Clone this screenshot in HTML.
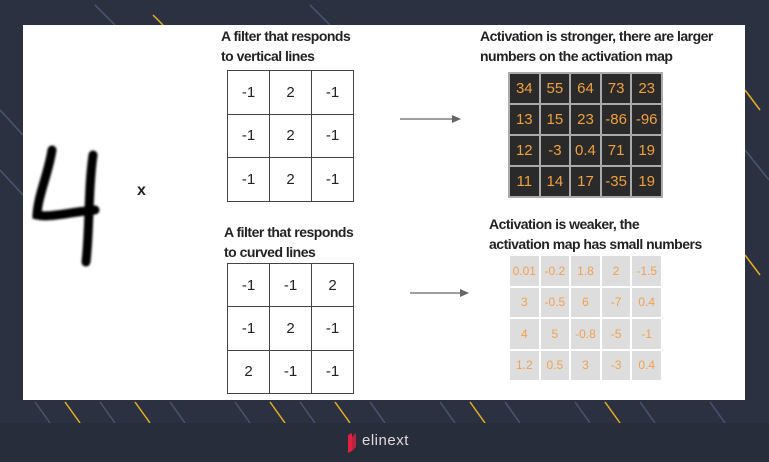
<!DOCTYPE html><html><head><style>
body{margin:0;width:769px;height:462px;background:#2b3140;position:relative;overflow:hidden;font-family:"Liberation Sans",sans-serif}
.p{position:absolute;left:23px;top:25px;width:722px;height:375px;background:#fff}
.t{position:absolute;font-size:14px;font-weight:bold;color:#222;line-height:20px;letter-spacing:-0.5px}
table{position:absolute;border-collapse:collapse;table-layout:fixed}
.f td{border:1.5px solid #444;text-align:center;font-size:15px;color:#222;padding:0}
.d td{border:2px solid #aaa;color:#f0a040;font-size:15px;text-align:center;padding:0;background:#2a2a2a}
.l td{border:2px solid #fff;background:#ddd;color:#f0a050;font-size:12px;text-align:center;padding:0}
.bar{position:absolute;left:0;top:423px;width:769px;height:39px;background:#272d3a}
</style></head><body>
<svg width="769" height="462" style="position:absolute;left:0;top:0">
<g stroke="#4a5570" stroke-width="1.5">
<line x1="95" y1="5" x2="115" y2="25"/><line x1="310" y1="5" x2="330" y2="25"/><line x1="0" y1="110" x2="23" y2="135"/><line x1="0" y1="170" x2="23" y2="195"/>
<line x1="35" y1="402" x2="50" y2="423"/><line x1="100" y1="402" x2="115" y2="423"/><line x1="170" y1="402" x2="185" y2="423"/><line x1="235" y1="402" x2="250" y2="423"/><line x1="300" y1="402" x2="315" y2="423"/><line x1="370" y1="402" x2="385" y2="423"/><line x1="440" y1="402" x2="455" y2="423"/><line x1="505" y1="402" x2="520" y2="423"/><line x1="575" y1="402" x2="590" y2="423"/><line x1="640" y1="402" x2="655" y2="423"/><line x1="710" y1="402" x2="725" y2="423"/><line x1="745" y1="150" x2="769" y2="180"/></g>
<g stroke="#e8b020" stroke-width="1.5">
<line x1="65" y1="402" x2="80" y2="423"/><line x1="135" y1="402" x2="150" y2="423"/><line x1="270" y1="402" x2="285" y2="423"/><line x1="335" y1="402" x2="350" y2="423"/><line x1="470" y1="402" x2="485" y2="423"/><line x1="605" y1="402" x2="620" y2="423"/><line x1="153" y1="15" x2="163" y2="25"/><line x1="745" y1="90" x2="760" y2="110"/><line x1="745" y1="255" x2="760" y2="275"/></g>
</svg>
<div class="p"></div>
<svg width="769" height="462" style="position:absolute;left:0;top:0">
<path d="M52 150 C48 175 38 195 37 215 C50 218 70 212 95 210 M93 155 C88 190 90 225 86 262" fill="none" stroke="#000" stroke-width="9" stroke-linecap="round" style="filter:blur(1px)"/>
<line x1="400" y1="119" x2="452" y2="119" stroke="#666" stroke-width="1.2"/><polygon points="452,115 461,119 452,123" fill="#666"/>
<line x1="410" y1="293" x2="460" y2="293" stroke="#666" stroke-width="1.2"/><polygon points="460,289 469,293 460,297" fill="#666"/>
</svg>
<div class="t" style="left:137px;top:181px;font-size:16px">x</div>
<div class="t" style="left:221px;top:26px">A filter that responds<br>to vertical lines</div>
<div class="t" style="left:224px;top:222px">A filter that responds<br>to curved lines</div>
<div class="t" style="left:480px;top:26px">Activation is stronger, there are larger<br>numbers on the activation map</div>
<div class="t" style="left:489px;top:214px">Activation is weaker, the<br>activation map has small numbers</div>
<table class="f" style="left:227px;top:70px;width:127px;height:132px"><tr><td>-1</td><td>2</td><td>-1</td></tr><tr><td>-1</td><td>2</td><td>-1</td></tr><tr><td>-1</td><td>2</td><td>-1</td></tr></table>
<table class="f" style="left:227px;top:263px;width:127px;height:131px"><tr><td>-1</td><td>-1</td><td>2</td></tr><tr><td>-1</td><td>2</td><td>-1</td></tr><tr><td>2</td><td>-1</td><td>-1</td></tr></table>
<table class="d" style="left:508px;top:72px;width:155px;height:126px"><tr><td>34</td><td>55</td><td>64</td><td>73</td><td>23</td></tr><tr><td>13</td><td>15</td><td>23</td><td>-86</td><td>-96</td></tr><tr><td>12</td><td>-3</td><td>0.4</td><td>71</td><td>19</td></tr><tr><td>11</td><td>14</td><td>17</td><td>-35</td><td>19</td></tr></table>
<table class="l" style="left:508px;top:254px;width:155px;height:128px"><tr><td>0.01</td><td>-0.2</td><td>1.8</td><td>2</td><td>-1.5</td></tr><tr><td>3</td><td>-0.5</td><td>6</td><td>-7</td><td>0.4</td></tr><tr><td>4</td><td>5</td><td>-0.8</td><td>-5</td><td>-1</td></tr><tr><td>1.2</td><td>0.5</td><td>3</td><td>-3</td><td>0.4</td></tr></table>
<div class="bar"><svg width="12" height="22" style="position:absolute;left:346px;top:8px"><polygon points="2,4 6,2 6,20 2,22" fill="#e02040"/><polygon points="6,6 10,2 10,16 6,20" fill="#e02040" opacity=".8"/></svg><span style="position:absolute;left:362px;top:9px;color:#ddd;font-size:15px;letter-spacing:0.5px">elinext</span></div>
</body></html>
